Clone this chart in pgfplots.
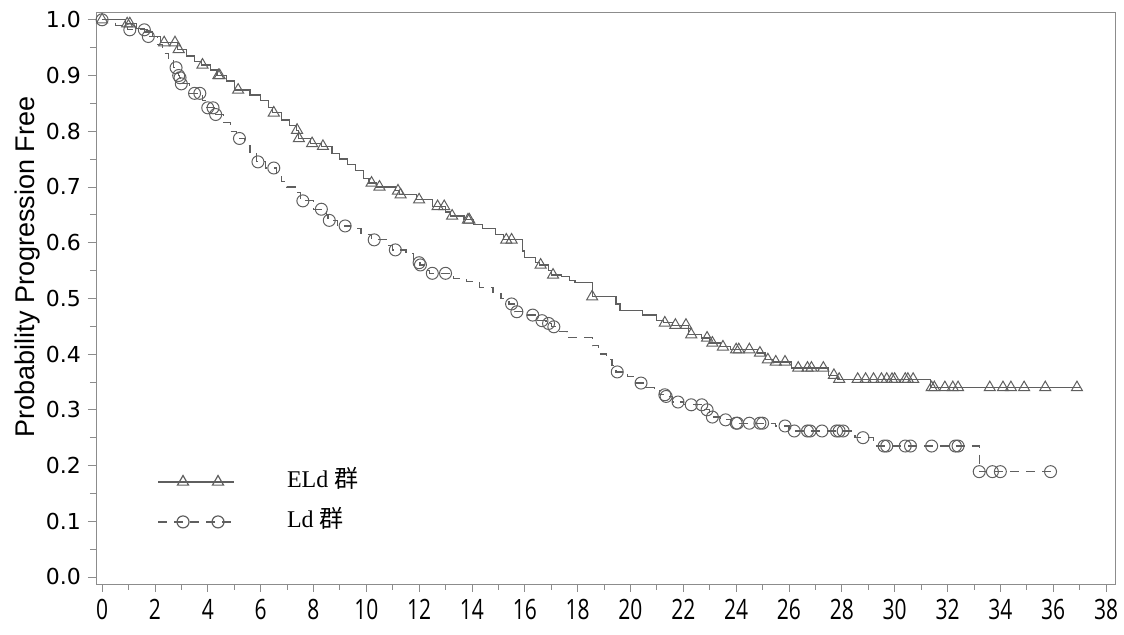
\documentclass[border=0pt]{standalone}
\usepackage{fontspec}
\usepackage{graphicx}
\usepackage{pgfplots}
\pgfplotsset{compat=1.18}
\setmainfont{Liberation Serif}
\setsansfont{Liberation Sans}
\newfontfamily\dejavu{DejaVu Sans}
\newfontfamily\opensans{Open Sans}
\newfontfamily\cjk{Noto Sans CJK SC}
\definecolor{kmline}{RGB}{95,95,95}
\definecolor{kmaxis}{RGB}{140,140,140}

% ELd: step curve (time, survival from that time on)
\pgfplotstableread{
t S
0 1.0
0.9 0.993
1.3 0.985
1.6 0.978
1.9 0.97
2.2 0.959
2.85 0.947
3.2 0.935
3.5 0.925
3.75 0.919
4.1 0.91
4.35 0.90
4.7 0.89
5.0 0.874
5.6 0.865
6.0 0.855
6.3 0.843
6.45 0.833
6.8 0.82
7.1 0.81
7.35 0.802
7.42 0.787
7.9 0.778
8.3 0.773
8.7 0.76
9.0 0.75
9.3 0.74
9.6 0.73
9.9 0.715
10.1 0.707
10.4 0.70
11.1 0.693
11.25 0.686
11.9 0.677
12.5 0.665
13.0 0.655
13.2 0.648
13.7 0.641
14.05 0.632
14.4 0.625
14.9 0.614
15.2 0.605
15.9 0.585
16.0 0.573
16.4 0.565
16.55 0.56
16.9 0.55
17.0 0.542
17.4 0.539
17.7 0.532
17.9 0.528
18.55 0.503
19.45 0.49
19.6 0.478
20.45 0.47
21.0 0.461
21.25 0.456
21.6 0.452
22.2 0.435
22.7 0.429
23.0 0.42
23.4 0.413
23.8 0.408
24.8 0.402
25.1 0.39
25.4 0.386
26.1 0.375
27.5 0.362
27.85 0.355
31.35 0.34
37.0 0.34
}\eldcurve

% ELd censored
\pgfplotstableread{
t S
0 1.0
0.95 0.993
1.05 0.993
2.35 0.959
2.76 0.959
2.9 0.947
3.8 0.919
4.4 0.90
4.45 0.90
5.15 0.874
6.5 0.833
7.38 0.802
7.45 0.787
7.95 0.778
8.36 0.773
10.2 0.707
10.5 0.70
11.2 0.693
11.3 0.686
12.0 0.677
12.7 0.665
12.95 0.665
13.25 0.648
13.85 0.641
13.9 0.641
15.3 0.605
15.5 0.605
16.6 0.56
17.07 0.542
18.55 0.503
21.3 0.456
21.7 0.452
22.1 0.452
22.3 0.435
22.9 0.429
23.1 0.42
23.5 0.413
24.0 0.408
24.1 0.408
24.5 0.408
24.9 0.402
25.2 0.39
25.5 0.386
25.85 0.386
26.35 0.375
26.7 0.375
26.85 0.375
27.3 0.375
27.7 0.362
27.9 0.355
28.6 0.355
28.9 0.355
29.2 0.355
29.5 0.355
29.7 0.355
29.9 0.355
30.0 0.355
30.4 0.355
30.5 0.355
30.7 0.355
31.4 0.34
31.5 0.34
31.9 0.34
32.2 0.34
32.4 0.34
33.6 0.34
34.1 0.34
34.4 0.34
34.9 0.34
35.7 0.34
36.9 0.34
}\eldcens

% Ld: step curve
\pgfplotstableread{
t S
0 1.0
0.5 0.99
0.95 0.982
1.7 0.97
2.1 0.955
2.3 0.94
2.5 0.93
2.7 0.914
2.88 0.90
2.93 0.896
2.98 0.885
3.3 0.868
3.8 0.855
3.95 0.842
4.25 0.83
4.6 0.815
4.85 0.80
5.1 0.787
5.4 0.775
5.6 0.76
5.85 0.745
6.2 0.734
6.6 0.72
6.8 0.71
7.0 0.70
7.3 0.69
7.5 0.675
8.0 0.66
8.5 0.65
8.55 0.64
8.9 0.63
9.4 0.625
9.8 0.615
10.2 0.605
10.8 0.595
11.0 0.587
11.5 0.58
11.8 0.564
12.03 0.56
12.2 0.55
12.4 0.545
13.3 0.535
13.8 0.53
14.3 0.52
14.8 0.51
15.1 0.50
15.4 0.49
15.6 0.476
16.1 0.47
16.5 0.46
16.8 0.455
17.0 0.449
17.3 0.44
17.6 0.43
18.55 0.415
18.8 0.40
19.1 0.39
19.3 0.38
19.45 0.368
19.9 0.36
20.2 0.348
20.6 0.34
20.9 0.335
21.1 0.327
21.32 0.324
21.6 0.314
22.0 0.309
22.8 0.30
23.0 0.287
23.4 0.282
23.8 0.276
25.5 0.271
26.0 0.262
28.5 0.25
29.2 0.235
33.2 0.189
35.9 0.189
}\ldcurve

% Ld censored
\pgfplotstableread{
t S
0 1.0
1.05 0.982
1.6 0.982
1.75 0.97
2.8 0.914
2.9 0.90
2.95 0.896
3.0 0.885
3.5 0.868
3.7 0.868
4.0 0.842
4.2 0.842
4.3 0.83
5.2 0.787
5.9 0.745
6.5 0.734
7.6 0.675
8.3 0.66
8.6 0.64
9.2 0.63
10.3 0.605
11.1 0.587
12.0 0.564
12.05 0.56
12.5 0.545
13.0 0.545
15.5 0.49
15.7 0.476
16.3 0.47
16.65 0.46
16.9 0.455
17.1 0.449
19.5 0.368
20.4 0.348
21.3 0.327
21.35 0.324
21.8 0.314
22.3 0.309
22.7 0.309
22.9 0.30
23.1 0.287
23.6 0.282
24.0 0.276
24.05 0.276
24.5 0.276
24.9 0.276
25.0 0.276
25.85 0.271
26.2 0.262
26.7 0.262
26.8 0.262
27.25 0.262
27.8 0.262
27.9 0.262
28.05 0.262
28.8 0.25
29.6 0.235
29.7 0.235
30.4 0.235
30.6 0.235
31.4 0.235
32.3 0.235
32.4 0.235
33.2 0.189
33.7 0.189
34.0 0.189
35.9 0.189
}\ldcens

\begin{document}
\begin{tikzpicture}
\begin{axis}[
    name=ax,
    scale only axis,
    width=509.5pt, height=286pt,
    xmin=-0.23, xmax=38.34,
    ymin=-0.0126, ymax=1.014,
    xtick={0,2,...,38},
    ytick={0,0.1,...,1.0},
    minor x tick num=1,
    minor y tick num=1,
    tick align=outside,
    xtick pos=bottom, ytick pos=left,
    major tick length=4pt, minor tick length=3pt,
    axis line style={draw=kmaxis},
    every tick/.style={draw=kmaxis},
    /pgf/number format/assume math mode=true,
    yticklabel style={font=\dejavu\fontsize{11}{11}\selectfont,
        /pgf/number format/fixed, /pgf/number format/fixed zerofill,
        /pgf/number format/precision=1},
    xticklabel={\scalebox{0.75}[1]{\pgfmathprintnumber{\tick}}},
    xticklabel style={font=\opensans\fontsize{14}{14}\selectfont},
    ylabel={Probability Progression Free},
    ylabel style={font=\sffamily\fontsize{13.5}{13.5}\selectfont,
        at={(rel axis cs:0,0.554)}, anchor=center, yshift=34pt},
    legend image code/.code={
        \draw[#1,mark=none] (0pt,0pt) -- (38pt,0pt);
        \draw[#1,only marks] plot coordinates {(12.5pt,0pt) (30pt,0pt)};
        \path[draw=none] (0pt,0pt) -- (64.5pt,0pt);
    },
    legend style={draw=none, fill=none, inner sep=0pt,
        at={(axis cs:2.08,0.1347)}, anchor=west,
        row sep=8pt,
        nodes={inner sep=0pt, text height=9pt, text depth=3pt,
            font=\rmfamily\fontsize{12}{12}\selectfont}},
    legend cell align=left,
]
\addplot[const plot, kmline, line width=0.6pt, forget plot] table[x=t,y=S] {\eldcurve};
\addplot[only marks, mark=triangle, mark size=3.2pt, kmline, mark options={line width=0.5pt}, forget plot] table[x=t,y=S] {\eldcens};
\addplot[const plot, kmline, line width=0.6pt, dash pattern=on 4.5pt off 3.5pt, forget plot] table[x=t,y=S] {\ldcurve};
\addplot[only marks, mark=o, mark size=3pt, kmline, mark options={solid, line width=0.5pt}, forget plot] table[x=t,y=S] {\ldcens};
\addlegendimage{kmline, line width=0.6pt, mark=triangle, mark size=3.2pt, mark options={solid}}
\addlegendentry{ELd {\cjk 群}}
\addlegendimage{kmline, line width=0.6pt, dash pattern=on 4.5pt off 3.5pt, mark=o, mark size=3pt, mark options={solid}}
\addlegendentry{Ld {\cjk 群}}
\end{axis}
\pgfresetboundingbox
\path ([xshift=-48pt,yshift=-25.5pt]ax.south west) rectangle ([xshift=4.5pt,yshift=6pt]ax.north east);
\end{tikzpicture}
\end{document}
